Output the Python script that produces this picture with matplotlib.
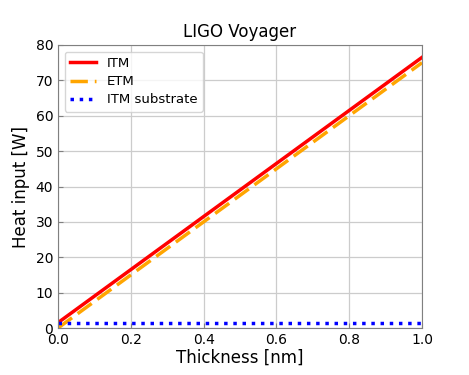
import matplotlib
matplotlib.use("Agg")
import matplotlib.pyplot as plt

thickness = [0.0, 0.2, 0.4, 0.6, 0.8, 1.0]
itm = [1.5, 16.5, 31.5, 46.5, 61.5, 76.5]
etm = [0.0, 15.0, 30.0, 45.0, 60.0, 75.0]
itm_sub = [1.5, 1.5, 1.5, 1.5, 1.5, 1.5]

fig = plt.figure(figsize=(4.69, 3.75), dpi=100)
ax = fig.add_axes([58/469, 1 - 328/375, (422-58)/469, (328-45)/375])

ax.plot(thickness, itm, color="red", lw=2.5, label="ITM")
ax.plot(thickness, etm, color="orange", lw=2.5, ls=(0, (5, 2)), label="ETM")
ax.plot(thickness, itm_sub, color="blue", lw=2.5, ls=":", label="ITM substrate")

ax.set_xlim(0, 1)
ax.set_ylim(0, 80)
ax.grid(True, color="#cccccc", lw=0.9)
ax.tick_params(direction="in", labelsize=10, color="gray")
for s in ax.spines.values():
    s.set_color("gray")
ax.set_title("LIGO Voyager", fontsize=12)
ax.set_xlabel("Thickness [nm]", fontsize=12, labelpad=1)
ax.set_ylabel("Heat input [W]", fontsize=12)
ax.legend(loc="upper left", fontsize=9.5, labelspacing=0.4)

fig.savefig("out.png", dpi=100)
